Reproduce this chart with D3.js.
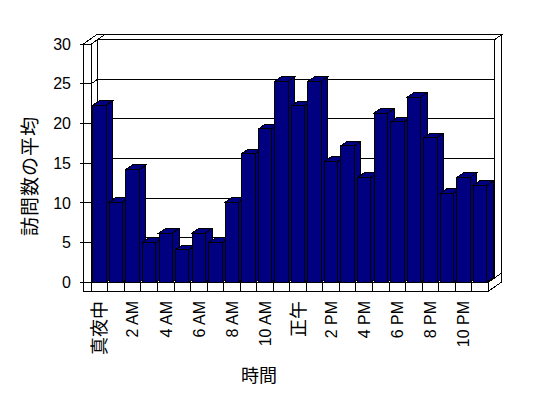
<!DOCTYPE html>
<html>
<head>
<meta charset="utf-8">
<script src="https://cdn.jsdelivr.net/npm/d3@7"></script>
<style>
  body { margin: 0; background: #fff; }
  text { font-family: "Liberation Sans", Arial, "Noto Sans CJK JP", sans-serif; fill: #000; }
  .cjk { font-family: "Noto Sans CJK JP", sans-serif; }
</style>
</head>
<body>
<script>
// 時間ごとの訪問数
const hours = ["真夜中", "1 AM", "2 AM", "3 AM", "4 AM", "5 AM", "6 AM", "7 AM", "8 AM", "9 AM", "10 AM", "11 AM",
  "正午", "1 PM", "2 PM", "3 PM", "4 PM", "5 PM", "6 PM", "7 PM", "8 PM", "9 PM", "10 PM", "11 PM"]
const visits = [22.3, 10.1, 14.2, 5.0, 6.2, 4.1, 6.2, 5.0, 10.1, 16.2, 19.3, 25.3,
  22.2, 25.3, 15.2, 17.2, 13.2, 21.3, 20.2, 23.3, 18.2, 11.2, 13.2, 12.2]
const yTicks = [0, 5, 10, 15, 20, 25, 30]
const xTitle = "時間"
const yTitle = "訪問数の平均"

const width = 548
const height = 398

// 奥行き方向 (1単位)
const depth = {dx: 6.6, dy: -4.6}
const barDepth = 1
const wallDepth = 2.05
const wallLeft = 83.3
const floorBottom = 291.3

const x = d3.scaleBand()
  .domain(hours)
  .range([91.3, 488.3])
  .paddingInner(0.19)
  .paddingOuter(0.095)

const y = d3.scaleLinear()
  .domain([0, 30])
  .range([282.3, 44])

const L = x.range()[0]
const R = x.range()[1]

function p(px, py, z) {
  return [px + z * depth.dx, py + z * depth.dy]
}
function poly(pts) {
  return "M" + pts.map(d => d.join(",")).join("L") + "Z"
}

const svg = d3.select("body").append("svg")
  .attr("width", width)
  .attr("height", height)

const g = svg.append("g")
  .attr("shape-rendering", "crispEdges")
  .attr("stroke", "#000")
  .attr("stroke-width", 1)

const walls = g.append("g").attr("fill", "#fff")

// 背面の壁
walls.append("path").attr("d", poly([p(L, y(0), 1), p(R, y(0), 1), p(R, y(30), 1), p(L, y(30), 1)]))
walls.append("path").attr("d", poly([p(L, y(30), 1), p(R, y(30), 1), p(R, y(30), wallDepth), p(L, y(30), wallDepth)]))
walls.append("path").attr("d", poly([p(R, y(0), 1), p(R, y(30), 1), p(R, y(30), wallDepth), p(R, y(0), wallDepth)]))

// 左の壁 (内側)
walls.append("path").attr("d", poly([p(L, y(0), 0), p(L, y(30), 0), p(L, y(30), 1), p(L, y(0), 1)]))

// 目盛線
const grid = g.append("g")
grid.selectAll("path")
  .data(yTicks.slice(1, -1))
  .join("path")
  .attr("fill", "none")
  .attr("d", v => "M" + [p(L, y(v), 0), p(L, y(v), 1), p(R, y(v), 1)].map(d => d.join(",")).join("L"))

// 左の壁 (上面と前面)
walls.append("path").attr("d", poly([p(wallLeft, y(30), 0), p(L, y(30), 0), p(L, y(30), wallDepth), p(wallLeft, y(30), wallDepth)]))
  .raise()
g.append("path").attr("fill", "#fff").attr("d", poly([[wallLeft, y(30)], [L, y(30)], [L, floorBottom], [wallLeft, floorBottom]]))

// 床
g.append("path").attr("fill", "#fff").attr("d", poly([p(L, y(0), 0), p(R, y(0), 0), p(R, y(0), 1), p(L, y(0), 1)]))
g.append("path").attr("fill", "#fff").attr("d", poly([p(R, y(0), 0), p(R, floorBottom, 0), p(R, floorBottom, wallDepth), p(R, y(0), wallDepth)]))
g.append("path").attr("fill", "#fff").attr("d", poly([[wallLeft, y(0)], [R, y(0)], [R, floorBottom], [wallLeft, floorBottom]]))

// 項目の区切り
g.append("g").selectAll("line")
  .data(d3.range(hours.length + 1))
  .join("line")
  .attr("x1", i => L + i * x.step())
  .attr("x2", i => L + i * x.step())
  .attr("y1", y(0))
  .attr("y2", floorBottom)

// 縦軸の目盛
g.append("g").selectAll("line")
  .data(yTicks)
  .join("line")
  .attr("x1", wallLeft - 3)
  .attr("x2", L)
  .attr("y1", v => y(v))
  .attr("y2", v => y(v))

// 棒
const bw = x.bandwidth()
const bars = g.append("g").attr("fill", "#000080")
  .selectAll("g")
  .data(hours.map((h, i) => ({h, v: visits[i]})))
  .join("g")

bars.append("path")
  .attr("d", d => poly([p(x(d.h) + bw, y(d.v), 0), p(x(d.h) + bw, y(0), 0), p(x(d.h) + bw, y(0), barDepth), p(x(d.h) + bw, y(d.v), barDepth)]))
bars.append("path")
  .attr("d", d => poly([p(x(d.h), y(d.v), 0), p(x(d.h) + bw, y(d.v), 0), p(x(d.h) + bw, y(d.v), barDepth), p(x(d.h), y(d.v), barDepth)]))
bars.append("rect")
  .attr("x", d => x(d.h))
  .attr("y", d => y(d.v))
  .attr("width", bw)
  .attr("height", d => y(0) - y(d.v))

// 縦軸ラベル
svg.append("g")
  .attr("font-size", 16)
  .attr("text-anchor", "end")
  .selectAll("text")
  .data(yTicks)
  .join("text")
  .attr("x", 71)
  .attr("y", v => y(v))
  .attr("dy", "0.36em")
  .text(v => v)

// 横軸ラベル (1つおき)
const isCjk = s => /[\u3000-\u9fff]/.test(s)
svg.append("g")
  .attr("text-anchor", "end")
  .selectAll("text")
  .data(hours.filter((h, i) => i % 2 === 0))
  .join("text")
  .attr("class", d => isCjk(d) ? "cjk" : null)
  .attr("font-size", d => isCjk(d) ? 18 : 16)
  .attr("transform", d => `translate(${x(d) + bw / 2},301) rotate(-90)`)
  .attr("dy", "0.36em")
  .text(d => d)

// 軸タイトル
svg.append("text")
  .attr("class", "cjk")
  .attr("font-size", 18)
  .attr("text-anchor", "middle")
  .attr("x", 259)
  .attr("y", 382)
  .text(xTitle)

svg.append("text")
  .attr("class", "cjk")
  .attr("font-size", 19)
  .attr("letter-spacing", 1)
  .attr("text-anchor", "middle")
  .attr("transform", "translate(37,176) rotate(-90)")
  .text(yTitle)
</script>
</body>
</html>
